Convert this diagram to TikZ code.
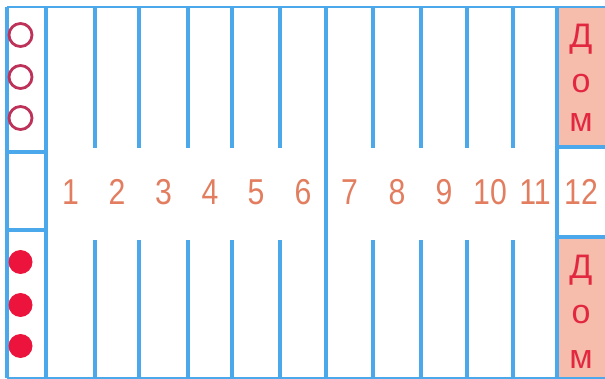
\documentclass[tikz,border=0pt]{standalone}
\usepackage{fontspec}
\setmainfont{Liberation Sans}
\definecolor{gridblue}{RGB}{75,168,235}
\definecolor{numcol}{RGB}{226,125,95}
\definecolor{domcol}{RGB}{226,40,64}
\definecolor{pinkfill}{RGB}{246,188,172}
\definecolor{ringcol}{RGB}{190,50,90}
\definecolor{dotcol}{RGB}{236,20,60}
\tikzset{
  gridline/.style={draw=gridblue, line width=3.4pt},
  numlabel/.style={text=numcol, font=\fontsize{36}{36}\selectfont, inner sep=0pt},
  domletter/.style={text=domcol, font=\fontsize{34}{34}\selectfont, inner sep=0pt},
  ring/.style={draw=ringcol, line width=2.8pt},
  token/.style={fill=dotcol},
}
\begin{document}
\begin{tikzpicture}[x=1pt,y=-1pt]
\useasboundingbox (0,0) rectangle (605,379);
% home boxes
\fill[pinkfill] (557,7) rectangle (605,147);
\fill[pinkfill] (557,237) rectangle (605,379);
% outer border
\draw[gridline, line width=2.2pt] (7,7) -- (605,7);
\draw[gridline, line width=2.2pt] (7,378) -- (605,378);
\draw[gridline] (7,7) -- (7,378);
% left column
\draw[gridline] (46,7) -- (46,378);
\draw[gridline] (7,152) -- (46,152);
\draw[gridline] (7,230) -- (46,230);
% middle full line
\draw[gridline] (326,7) -- (326,378);
% home column
\draw[gridline] (557,7) -- (557,378);
\draw[gridline] (557,147) -- (605,147);
\draw[gridline] (557,237) -- (605,237);
% short lines
\foreach \x in {95,139,188,232,280,373,421,467,513}{
  \draw[gridline] (\x,7) -- (\x,148);
  \draw[gridline] (\x,240) -- (\x,378);
}
% numbers
\foreach \n/\x in {1/70.5,2/117,3/163.5,4/210,5/256,6/303,7/349.5,8/397,9/444,10/490,11/535,12/581}{
  \node[numlabel] (n\n) at (\x,192) {\scalebox{0.84}[1]{\n}};
}
% home labels
\node[domletter] (d1) at (581,39) {Д};
\node[domletter] (o1) at (581,84) {о};
\node[domletter] (m1) at (581,123) {м};
\node[domletter] (d2) at (581,270) {Д};
\node[domletter] (o2) at (581,315) {о};
\node[domletter] (m2) at (581,360) {м};
% pieces
\foreach \y [count=\i] in {35,77,118}{
  \draw[ring] (20.5,\y) circle (11.5);
}
\foreach \y [count=\i] in {262,305,346}{
  \fill[token] (20.5,\y) circle (12);
}
\end{tikzpicture}
\end{document}
